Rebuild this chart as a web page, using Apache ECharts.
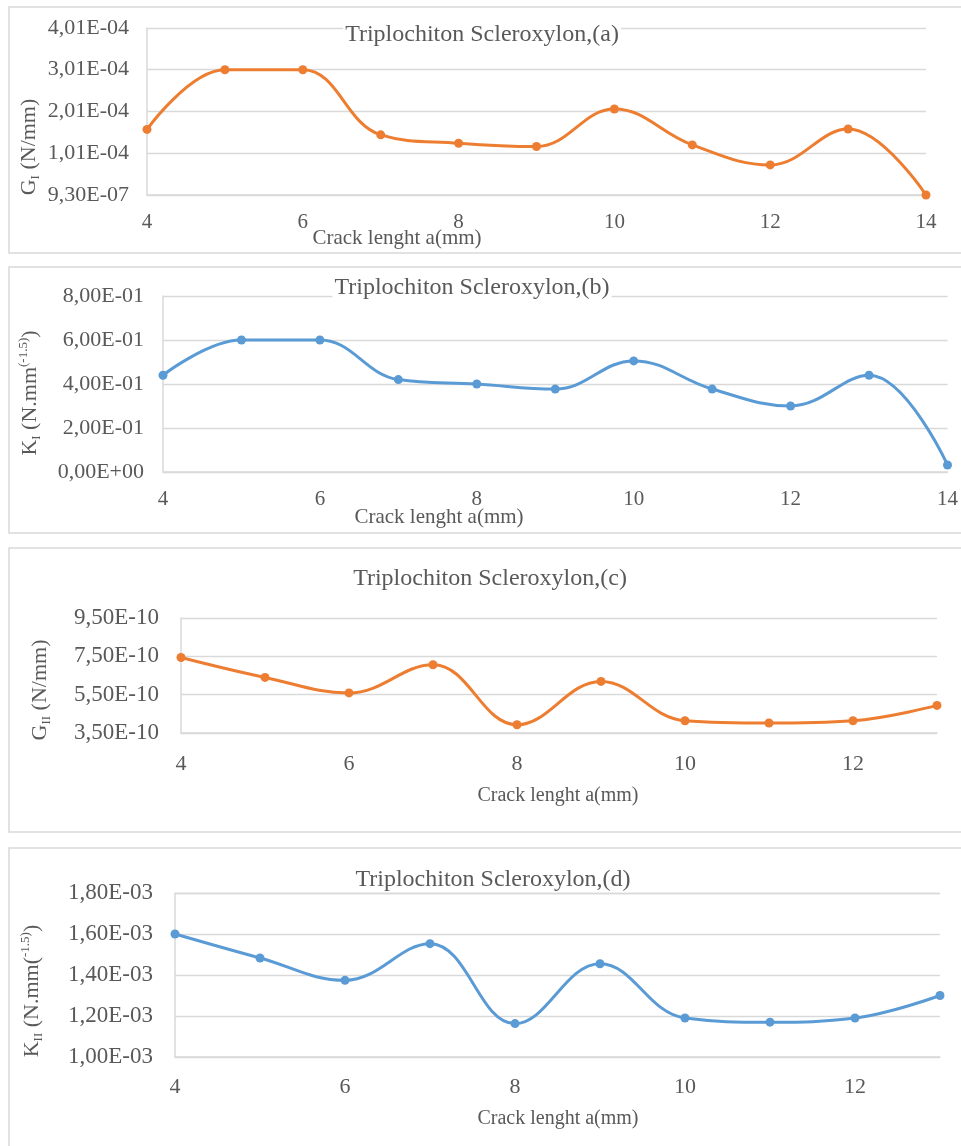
<!DOCTYPE html>
<html>
<head>
<meta charset="utf-8">
<script src="https://cdn.jsdelivr.net/npm/echarts@6/dist/echarts.min.js"></script>
<style>
html,body{margin:0;padding:0;background:#fff;}
#c{width:961px;height:1146px;}
</style>
</head>
<body>
<div id="c"></div>
<script>
// ---- data ----
const crackAB = [4, 5, 6, 7, 8, 9, 10, 11, 12, 13, 14];
const gI = [1.58e-4, 3.01e-4, 3.01e-4, 1.45e-4, 1.25e-4, 1.17e-4, 2.07e-4, 1.21e-4, 7.3e-5, 1.59e-4, 1.0e-6];
const kI = [0.44, 0.60, 0.60, 0.42, 0.40, 0.377, 0.505, 0.377, 0.30, 0.44, 0.032];
const crackCD = [4, 5, 6, 7, 8, 9, 10, 11, 12, 13];
const gII = [7.44e-10, 6.40e-10, 5.59e-10, 7.06e-10, 3.93e-10, 6.19e-10, 4.14e-10, 4.02e-10, 4.14e-10, 4.94e-10];
const kII = [1.60e-3, 1.483e-3, 1.374e-3, 1.553e-3, 1.163e-3, 1.455e-3, 1.19e-3, 1.17e-3, 1.19e-3, 1.30e-3];
const titles = ['Triplochiton Scleroxylon,(a)', 'Triplochiton Scleroxylon,(b)', 'Triplochiton Scleroxylon,(c)', 'Triplochiton Scleroxylon,(d)'];
const xName = 'Crack lenght a(mm)';
const yTicksA = [9.3e-7, 1.01e-4, 2.01e-4, 3.01e-4, 4.01e-4];
const yTicksB = [0, 0.2, 0.4, 0.6, 0.8];
const yTicksC = [3.5e-10, 5.5e-10, 7.5e-10, 9.5e-10];
const yTicksD = [1.0e-3, 1.2e-3, 1.4e-3, 1.6e-3, 1.8e-3];

// ---- style ----
const FONT = '"Liberation Serif", "Times New Roman", serif';
const TXT = '#595959';
const GRID = '#d9d9d9';
const ORANGE = '#ED7D31';
const BLUE = '#5B9BD5';

function sci(v) {
  const s = Number(v).toExponential(2);
  const parts = s.split('e');
  const e = parseInt(parts[1], 10);
  const sign = e < 0 ? '-' : '+';
  const ae = Math.abs(e);
  return parts[0].replace('.', ',') + 'E' + sign + (ae < 10 ? '0' : '') + ae;
}

const grids = [
  {left: 147, right: 35, top: 28, height: 167},
  {left: 163, right: 13, top: 296, height: 176},
  {left: 181, right: 24, top: 618, height: 115},
  {left: 175, right: 21, top: 893, height: 164}
];

function xAxisCfg(idx, max, fs, margin) {
  return {
    type: 'value', gridIndex: idx, min: 4, max: max, interval: 2,
    splitLine: {show: false},
    axisTick: {show: false},
    axisLine: {show: true, onZero: false, lineStyle: {color: GRID, width: 1.5}},
    axisLabel: {color: TXT, fontFamily: FONT, fontSize: fs, margin: margin, showMaxLabel: max === 14, showMinLabel: true}
  };
}
function yAxisCfg(idx, ticks, fs, margin) {
  return {
    type: 'value', gridIndex: idx,
    min: ticks[0], max: ticks[ticks.length - 1], interval: ticks[1] - ticks[0],
    splitLine: {show: true, lineStyle: {color: GRID, width: 1.3}},
    axisTick: {show: false},
    axisLine: {show: true, lineStyle: {color: GRID, width: 1.5}},
    axisLabel: {color: TXT, fontFamily: FONT, fontSize: fs, margin: margin, formatter: sci}
  };
}
function lineSeries(idx, xs, ys, color) {
  return {
    type: 'line', xAxisIndex: idx, yAxisIndex: idx,
    data: xs.map((x, i) => [x, ys[i]]),
    smooth: 0.4,
    symbol: 'circle', symbolSize: 9,
    lineStyle: {color: color, width: 3},
    itemStyle: {color: color},
    emphasis: {disabled: true},
    animation: false, z: 3
  };
}

function box(y, h) {
  return {type: 'rect', z: 0, silent: true, shape: {x: 9, y: y, width: 970, height: h},
    style: {fill: null, stroke: GRID, lineWidth: 1.5}};
}
function titleText(x, y, text) {
  return {type: 'text', z: 100, x: x, y: y, silent: true,
    style: {text: text, font: '24px ' + FONT, fill: TXT, align: 'center', verticalAlign: 'middle',
      backgroundColor: '#fff', padding: [0, 2]}};
}
function xNameText(x, y, fs) {
  return {type: 'text', z: 100, x: x, y: y, silent: true,
    style: {text: xName, font: fs + 'px ' + FONT, fill: TXT, align: 'center', verticalAlign: 'middle'}};
}
function yNameText(x, y, rich, text) {
  return {type: 'text', z: 100, x: x, y: y, rotation: Math.PI / 2, silent: true,
    style: {text: text, rich: rich, align: 'center', verticalAlign: 'middle', fill: TXT}};
}
const richY = {
  a: {fontFamily: FONT, fontSize: 22, color: TXT, lineHeight: 26, verticalAlign: 'middle'},
  sub: {fontFamily: FONT, fontSize: 13, color: TXT, lineHeight: 26, verticalAlign: 'bottom'},
  sup: {fontFamily: FONT, fontSize: 13, color: TXT, lineHeight: 26, verticalAlign: 'top'}
};

const chart = echarts.init(document.getElementById('c'), null, {renderer: 'canvas'});
chart.setOption({
  backgroundColor: '#fff',
  animation: false,
  grid: grids,
  xAxis: [
    xAxisCfg(0, 14, 21, 17),
    xAxisCfg(1, 14, 21, 17),
    xAxisCfg(2, 13, 22, 20),
    xAxisCfg(3, 13, 22, 19)
  ],
  yAxis: [
    yAxisCfg(0, yTicksA, 22, 18),
    yAxisCfg(1, yTicksB, 22, 19),
    yAxisCfg(2, yTicksC, 23, 22),
    yAxisCfg(3, yTicksD, 23, 22)
  ],
  series: [
    lineSeries(0, crackAB, gI, ORANGE),
    lineSeries(1, crackAB, kI, BLUE),
    lineSeries(2, crackCD, gII, ORANGE),
    lineSeries(3, crackCD, kII, BLUE)
  ],
  graphic: [
    box(7, 246), box(267, 266), box(548, 284), box(848, 320),
    titleText(482, 35, titles[0]),
    titleText(472, 288, titles[1]),
    titleText(490, 579, titles[2]),
    titleText(493, 880, titles[3]),
    xNameText(397, 238, 21),
    xNameText(439, 517, 21),
    xNameText(558, 796, 20),
    xNameText(558, 1119, 20),
    yNameText(29, 147, richY, '{a|G}{sub|I}{a| (N/mm)}'),
    yNameText(30, 393, richY, '{a|K}{sub|I}{a| (N.mm}{sup|(-1.5)}{a|)}'),
    yNameText(40, 690, richY, '{a|G}{sub|II}{a| (N/mm)}'),
    yNameText(32, 991, richY, '{a|K}{sub|II}{a| (N.mm(}{sup|-1.5)}{a|)}')
  ]
});
</script>
</body>
</html>
